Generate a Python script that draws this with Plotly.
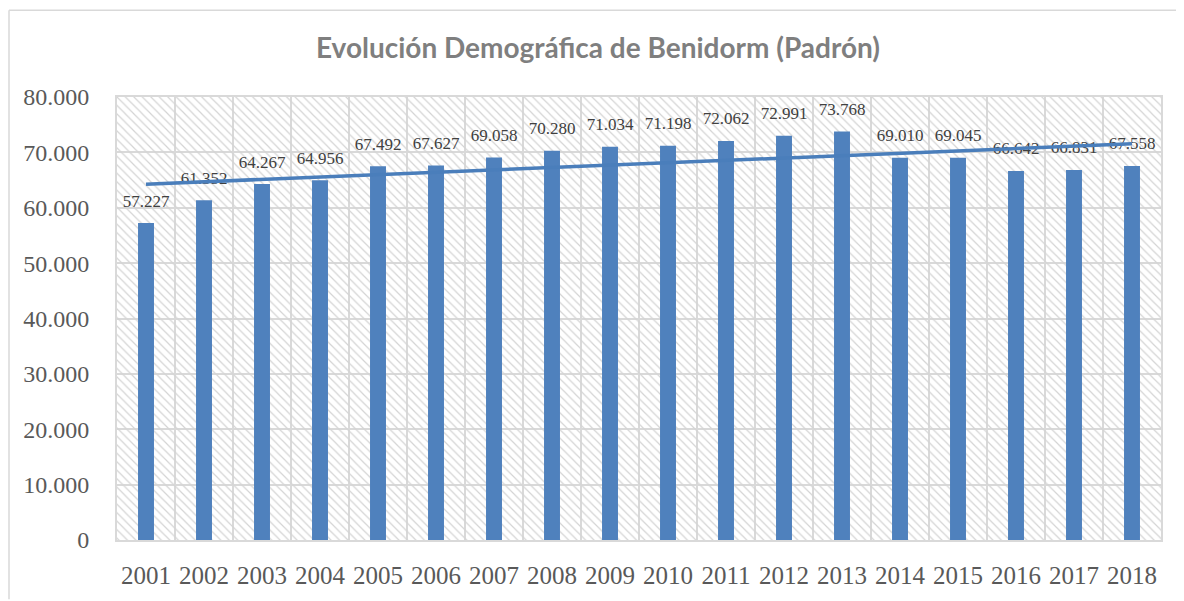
import numpy as np
import plotly.graph_objects as go

years = ["2001", "2002", "2003", "2004", "2005", "2006", "2007", "2008", "2009",
         "2010", "2011", "2012", "2013", "2014", "2015", "2016", "2017", "2018"]
population = [57227, 61352, 64267, 64956, 67492, 67627, 69058, 70280, 71034,
              71198, 72062, 72991, 73768, 69010, 69045, 66642, 66831, 67558]
title_text = "Evolución Demográfica de Benidorm (Padrón)"

# page body has an 8px margin, so the figure starts at (8, 8)
W, H = 1176, 593
L, R, T, B = 109, 23, 89, 55

idx = np.arange(len(years))
slope, intercept = np.polyfit(idx, population, 1)
trend = slope * idx + intercept

def fmt(v):
    return f"{v:,}".replace(",", ".")

fig = go.Figure()

# hatched plot-area background
fig.add_trace(go.Bar(
    x=[(len(years) - 1) / 2], y=[80000], width=[len(years)],
    marker=dict(color="rgba(0,0,0,0)", line=dict(width=0),
                pattern=dict(shape="\\", fgcolor="#d4d4d4", size=6, solidity=0.2,
                             fillmode="replace")),
    hoverinfo="skip", showlegend=False,
))

fig.add_trace(go.Bar(
    x=idx, y=population, width=0.275,
    marker=dict(color="#4f81bd", line=dict(width=0)),
    showlegend=False,
))

# data labels
fig.add_trace(go.Scatter(
    x=idx, y=population, mode="markers+text",
    marker=dict(size=18, color="rgba(0,0,0,0)"),
    text=[fmt(v) for v in population], textposition="top center",
    textfont=dict(family="Liberation Serif", size=17, color="#404040"),
    cliponaxis=False, hoverinfo="skip", showlegend=False,
))

# linear trendline, drawn over the labels as in the original
fig.add_trace(go.Scatter(
    x=idx, y=trend, mode="lines",
    line=dict(color="#4a7ebb", width=3.5), showlegend=False,
))

pw, ph = W - L - R, H - T - B

fig.update_layout(
    width=W, height=H,
    margin=dict(l=L, r=R, t=T, b=B),
    paper_bgcolor="white", plot_bgcolor="white",
    barmode="overlay",
    separators=",.",
    title=dict(text=title_text, x=(590 - L) / pw, xanchor="center", xref="paper",
               y=1 - 40 / H, yanchor="middle", yref="container",
               font=dict(family="Lato", size=28, color="#7f7f7f", weight="bold")),
)

fig.update_xaxes(
    range=[-0.5, len(years) - 0.5],
    tickmode="array", tickvals=idx, ticktext=years,
    showgrid=False, zeroline=False,
    minor=dict(tick0=-0.5, dtick=1, showgrid=True, gridcolor="#d9d9d9", gridwidth=2),
    showline=True, mirror=True, linecolor="#d9d9d9", linewidth=2,
    tickfont=dict(family="Liberation Serif", size=25, color="#595959"),
    ticks="", ticklabelstandoff=12,
)
fig.update_yaxes(
    range=[0, 80000], dtick=10000, tickformat=",d",
    showgrid=True, gridcolor="#d9d9d9", gridwidth=2, zeroline=False,
    showline=True, mirror=True, linecolor="#d9d9d9", linewidth=2,
    tickfont=dict(family="Liberation Serif", size=24, color="#595959"),
    ticks="", ticklabelstandoff=21,
)

# outer chart border (left and top edges of the chart area)
x0 = -(L - 1) / pw
y0 = (ph + T - 1) / ph
fig.add_shape(type="line", xref="paper", yref="paper",
              x0=x0, x1=x0, y0=y0, y1=-(B + 5) / ph,
              line=dict(color="#d9d9d9", width=1.5))
fig.add_shape(type="line", xref="paper", yref="paper",
              x0=x0, x1=(W - L + 5) / pw, y0=y0, y1=y0,
              line=dict(color="#d9d9d9", width=1.5))

fig.write_html("out.html")
